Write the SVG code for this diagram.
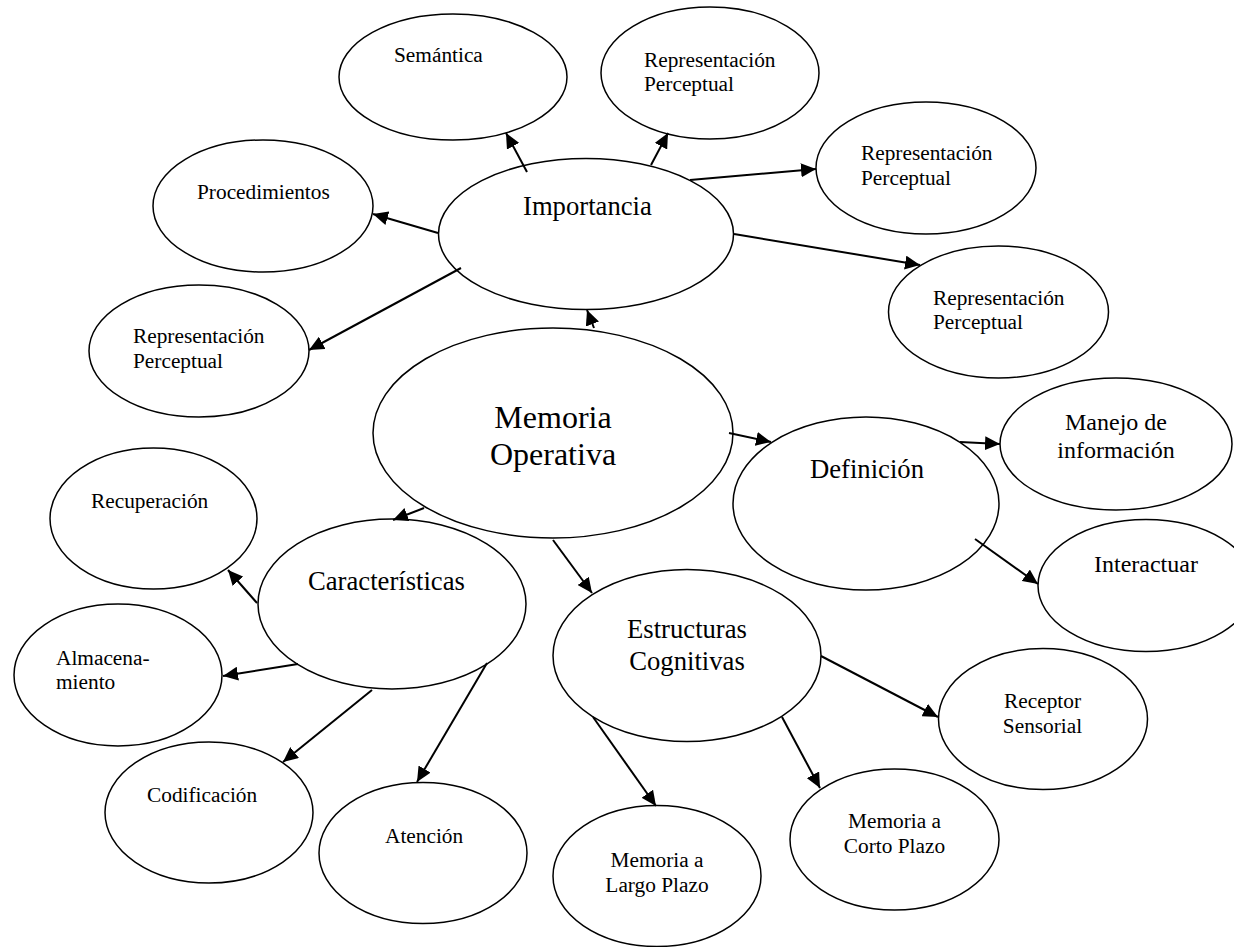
<svg xmlns="http://www.w3.org/2000/svg" width="1234" height="947" viewBox="0 0 1234 947">
<defs>
<style>
.n ellipse{fill:#fff;stroke:#000;stroke-width:1.5}
text{font-family:"Liberation Serif","Times New Roman",serif;fill:#000}
.s{font-size:21.33px}
.m{font-size:24px}
.l{font-size:26.67px}
.xl{font-size:32px}
.c{text-anchor:middle}
#connectors line{stroke:#000;stroke-width:2;marker-end:url(#ah)}
</style>
<marker id="ah" markerUnits="userSpaceOnUse" markerWidth="16" markerHeight="14" refX="15" refY="7" orient="auto">
<path d="M0,0 L15,7 L0,14 z" fill="#000"/>
</marker>
</defs>
<rect width="1234" height="947" fill="#fff"/>

<g id="semantica" class="n"><ellipse cx="453" cy="77" rx="114" ry="63"/><text class="s" x="394" y="62">Semántica</text></g>
<g id="rp-top" class="n"><ellipse cx="710" cy="73" rx="109" ry="66"/><text class="s" x="644" y="67">Representación</text><text class="s" x="644" y="91">Perceptual</text></g>
<g id="rp-midright" class="n"><ellipse cx="926" cy="168" rx="110" ry="66"/><text class="s" x="861" y="160">Representación</text><text class="s" x="861" y="185">Perceptual</text></g>
<g id="rp-lowright" class="n"><ellipse cx="998.5" cy="312" rx="110" ry="66"/><text class="s" x="933" y="305">Representación</text><text class="s" x="933" y="329">Perceptual</text></g>
<g id="procedimientos" class="n"><ellipse cx="263" cy="206" rx="110" ry="66"/><text class="s" x="197" y="199">Procedimientos</text></g>
<g id="rp-left" class="n"><ellipse cx="199" cy="351" rx="110" ry="66"/><text class="s" x="133" y="343">Representación</text><text class="s" x="133" y="368">Perceptual</text></g>
<g id="importancia" class="n"><ellipse cx="586" cy="234" rx="147.5" ry="75.5"/><text class="l" x="523" y="215">Importancia</text></g>
<g id="memoria-operativa" class="n"><ellipse cx="553" cy="433" rx="180" ry="105"/><text class="xl c" x="553" y="428">Memoria</text><text class="xl c" x="553" y="465">Operativa</text></g>
<g id="definicion" class="n"><ellipse cx="866" cy="503.5" rx="133" ry="86.5"/><text class="l" x="810" y="478">Definición</text></g>
<g id="manejo" class="n"><ellipse cx="1116" cy="444" rx="116" ry="66"/><text class="m c" x="1116" y="430">Manejo de</text><text class="m c" x="1116" y="458">información</text></g>
<g id="interactuar" class="n"><ellipse cx="1146" cy="585.5" rx="108" ry="66"/><text class="m" x="1094" y="572">Interactuar</text></g>
<g id="caracteristicas" class="n"><ellipse cx="392" cy="604" rx="134" ry="85"/><text class="l" x="308" y="590">Características</text></g>
<g id="recuperacion" class="n"><ellipse cx="153.5" cy="518.5" rx="103.5" ry="70.5"/><text class="s" x="91" y="508">Recuperación</text></g>
<g id="almacenamiento" class="n"><ellipse cx="118" cy="675" rx="104" ry="71"/><text class="s" x="56" y="665">Almacena-</text><text class="s" x="56" y="689">miento</text></g>
<g id="codificacion" class="n"><ellipse cx="209" cy="812.5" rx="104" ry="70.5"/><text class="s" x="147" y="802">Codificación</text></g>
<g id="atencion" class="n"><ellipse cx="423" cy="853" rx="104" ry="70.5"/><text class="s" x="385" y="843">Atención</text></g>
<g id="estructuras" class="n"><ellipse cx="687" cy="655.5" rx="134" ry="86"/><text class="l c" x="687" y="638">Estructuras</text><text class="l c" x="687" y="670">Cognitivas</text></g>
<g id="largo-plazo" class="n"><ellipse cx="657" cy="876" rx="104" ry="70.5"/><text class="s c" x="657" y="867">Memoria a</text><text class="s c" x="657" y="892">Largo Plazo</text></g>
<g id="corto-plazo" class="n"><ellipse cx="894.5" cy="839.5" rx="104.5" ry="70.5"/><text class="s c" x="894.5" y="828">Memoria a</text><text class="s c" x="894.5" y="853">Corto Plazo</text></g>
<g id="receptor" class="n"><ellipse cx="1043" cy="719" rx="104.5" ry="70.5"/><text class="s c" x="1042.5" y="708">Receptor</text><text class="s c" x="1042.5" y="733">Sensorial</text></g>

<g id="connectors">
<line x1="527" y1="172" x2="506" y2="133"/>
<line x1="651" y1="165" x2="668" y2="133"/>
<line x1="690" y1="180" x2="816" y2="169"/>
<line x1="734" y1="234" x2="920" y2="265"/>
<line x1="438" y1="233" x2="373" y2="214"/>
<line x1="461" y1="268" x2="309" y2="350"/>
<line x1="594" y1="328" x2="587" y2="310"/>
<line x1="729" y1="433" x2="771" y2="442"/>
<line x1="960" y1="442" x2="1000" y2="444"/>
<line x1="975" y1="539" x2="1038" y2="584"/>
<line x1="424" y1="508" x2="393" y2="520"/>
<line x1="257" y1="603" x2="228" y2="570"/>
<line x1="298" y1="664" x2="223" y2="676"/>
<line x1="372" y1="690" x2="283" y2="762"/>
<line x1="487" y1="663" x2="417" y2="782"/>
<line x1="553" y1="540" x2="592" y2="593"/>
<line x1="821" y1="656" x2="938" y2="717"/>
<line x1="782" y1="717" x2="820" y2="788"/>
<line x1="593" y1="717" x2="656" y2="806"/>
</g>
</svg>
